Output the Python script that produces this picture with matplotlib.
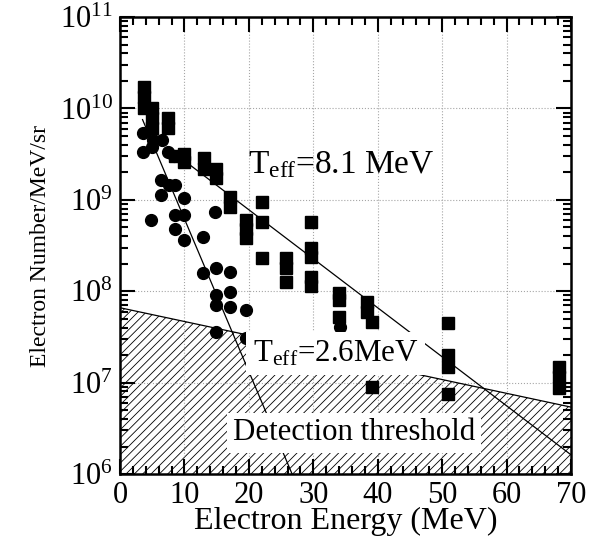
import matplotlib.pyplot as plt
import numpy as np
from matplotlib.ticker import MultipleLocator, LogLocator, NullFormatter

plt.rcParams['font.family'] = ['Liberation Serif', 'DejaVu Serif']
plt.rcParams['mathtext.fontset'] = 'custom'
plt.rcParams['mathtext.rm'] = 'Liberation Serif'
plt.rcParams['mathtext.it'] = 'Liberation Serif:italic'
plt.rcParams['hatch.linewidth'] = 0.6

# squares (measured spectrum points)
sq_energy = [3.7, 3.7, 3.7, 4.9, 4.9, 4.9, 7.4, 7.4, 8.6, 9.9, 9.9,
             13.0, 13.0, 14.9, 14.9, 17.1, 17.1, 19.6, 19.6, 19.6,
             22.1, 22.1, 22.1, 25.7, 25.7, 25.7,
             29.6, 29.6, 29.6, 29.6, 29.6,
             34.0, 34.0, 34.0, 38.3, 38.3, 39.1, 39.1,
             50.9, 50.9, 50.9, 50.9, 68.1, 68.1, 68.1]
sq_number = [1.7e10, 1.33e10, 1.0e10, 1.0e10, 7.8e9, 6.1e9, 7.8e9, 6.1e9, 3.0e9, 3.2e9, 2.6e9,
             2.86e9, 2.2e9, 2.2e9, 1.75e9, 1.07e9, 8.3e8, 6.0e8, 4.8e8, 3.8e8,
             9.5e8, 5.7e8, 2.3e8, 2.3e8, 1.8e8, 1.26e8,
             5.7e8, 3.0e8, 2.35e8, 1.43e8, 1.15e8,
             9.5e7, 8.0e7, 5.2e7, 7.6e7, 5.9e7, 4.6e7, 9.0e6,
             4.5e7, 2.0e7, 1.5e7, 7.5e6, 1.48e7, 1.15e7, 8.7e6]

# circles (second data set)
ci_energy = [3.6, 5.1, 6.5, 3.6, 5.0, 7.5, 8.4, 6.4, 7.6, 8.5, 6.4, 9.9,
             4.8, 8.5, 9.9, 14.7, 8.5, 9.9, 12.9, 12.9, 14.9, 17.1,
             14.9, 17.1, 14.9, 17.1, 19.6, 14.9, 19.6, 34.1]
ci_number = [5.4e9, 4.5e9, 4.5e9, 3.3e9, 3.8e9, 3.3e9, 3.0e9, 1.65e9, 1.45e9, 1.45e9, 1.13e9, 1.05e9,
             6.0e8, 6.8e8, 6.8e8, 7.4e8, 4.8e8, 3.6e8, 3.9e8, 1.58e8, 1.8e8, 1.62e8,
             9.1e7, 9.8e7, 7.1e7, 6.7e7, 6.2e7, 3.6e7, 3.1e7, 4.1e7]

# exponential fits N = A * exp(-E / T)
fit_hot_T, fit_hot_A, fit_hot_range = 8.1, 9.2e9, (8.0, 70.0)
fit_cold_T, fit_cold_A, fit_cold_range = 2.6, 2.9e10, (3.5, 27.5)

# detection threshold
thr_energy = [0, 20, 47, 70]
thr_number = [6.6e7, 3.3e7, 1.2e7, 5.4e6]

fig = plt.figure(figsize=(5.97, 5.43), dpi=100)
ax = fig.add_axes([0.201, 0.127, 0.7554, 0.8416])

ax.fill_between(thr_energy, thr_number, 1e6, facecolor='none', edgecolor='black',
                hatch='////', linewidth=0, zorder=1)
ax.plot(thr_energy, thr_number, color='black', lw=0.9, zorder=2)

for T, A, (e0, e1) in [(fit_hot_T, fit_hot_A, fit_hot_range),
                       (fit_cold_T, fit_cold_A, fit_cold_range)]:
    e = np.linspace(e0, e1, 200)
    ax.plot(e, A * np.exp(-e / T), color='black', lw=0.9, zorder=3)

ax.plot(sq_energy, sq_number, 's', color='black', ms=8, zorder=4)
ax.plot(ci_energy, ci_number, 'o', color='black', ms=8.5, zorder=4)

ax.set_yscale('log')
ax.set_xlim(0, 70)
ax.set_ylim(1e6, 1e11)
ax.xaxis.set_major_locator(MultipleLocator(10))
ax.xaxis.set_minor_locator(MultipleLocator(2))
ax.yaxis.set_major_locator(LogLocator(base=10, numticks=10))
ax.yaxis.set_minor_locator(LogLocator(base=10, subs=np.arange(2, 10), numticks=20))
ax.yaxis.set_minor_formatter(NullFormatter())
ax.tick_params(which='both', direction='in', top=True, right=True, width=1.5, labelsize=22)
ax.tick_params(which='major', length=11, pad=5)
ax.tick_params(which='minor', length=6)
for s in ax.spines.values():
    s.set_linewidth(1.8)
ax.grid(True, which='major', ls=':', color='0.65', lw=0.8)

ax.set_xlabel('Electron Energy (MeV)', fontsize=23, labelpad=-2)
ax.set_ylabel('Electron Number/MeV/sr', fontsize=17, labelpad=6)

box = dict(facecolor='white', edgecolor='none', pad=4)
ax.text(19.8, 1.95e9, r'T$_{\rm eff}$=8.1 MeV', fontsize=24, zorder=5)
ax.text(20.6, 1.7e7, r'T$_{\rm eff}$=2.6MeV', fontsize=22.3,
        bbox=dict(facecolor='white', edgecolor='none', pad=5), zorder=5)
ax.text(17.5, 2.35e6, 'Detection threshold', fontsize=22.2, bbox=box, zorder=5)

fig.savefig('out.png', dpi=100)
